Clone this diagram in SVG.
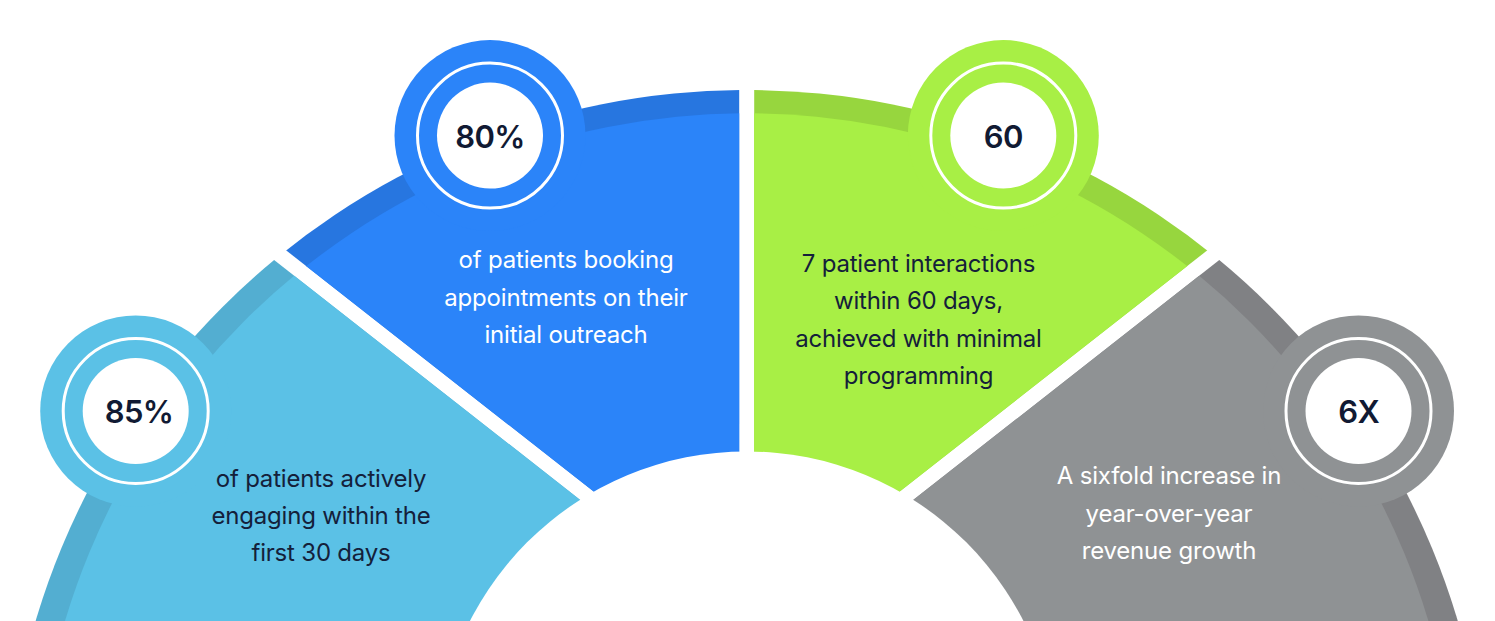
<svg xmlns="http://www.w3.org/2000/svg" width="1495" height="621" viewBox="0 0 1495 621">
  <defs>
    <clipPath id="c-lb"><polygon points="742.07,626.9 -438.3,-298.6 -600,-298.6 -600,900 742.07,900"/></clipPath>
    <clipPath id="c-bl"><polygon points="739.2,605.6 -429,-310.4 739.2,-310.4"/></clipPath>
    <clipPath id="c-gr"><polygon points="754.2,605.6 1922.4,-310.4 754.2,-310.4"/></clipPath>
    <clipPath id="c-gy"><polygon points="751.33,626.9 1931.7,-298.6 2093.4,-298.6 2093.4,900 751.33,900"/></clipPath>
  </defs>
  <style>
    .ring { fill: none; stroke: #ffffff; stroke-width: 3; }
    .core { fill: #ffffff; }
    .num { font-family: Inter, "Liberation Sans", sans-serif; font-weight: 600; font-size: 31px; letter-spacing: -0.6px; fill: #111a33; text-anchor: middle; }
    .desc { font-family: Inter, "Liberation Sans", sans-serif; font-weight: 400; font-size: 24px; letter-spacing: -0.2px; text-anchor: middle; }
    .dark { fill: #14203a; }
    .light { fill: #ffffff; }
  </style>
  <rect width="1495" height="621" fill="#ffffff"/>

  <g id="segment-85">
    <g clip-path="url(#c-lb)">
      <circle cx="746.7" cy="831.6" r="741.6" fill="#53AED1"/>
      <circle cx="746.7" cy="824.8" r="711.5" fill="#5BC1E6"/>
    </g>
  </g>
  <g id="segment-80">
    <g clip-path="url(#c-bl)">
      <circle cx="746.7" cy="831.6" r="741.6" fill="#2776E0"/>
      <circle cx="746.7" cy="824.8" r="711.5" fill="#2B84F9"/>
    </g>
  </g>
  <g id="segment-60">
    <g clip-path="url(#c-gr)">
      <circle cx="746.7" cy="831.6" r="741.6" fill="#97D63E"/>
      <circle cx="746.7" cy="824.8" r="711.5" fill="#A8EF45"/>
    </g>
  </g>
  <g id="segment-6x">
    <g clip-path="url(#c-gy)">
      <circle cx="746.7" cy="831.6" r="741.6" fill="#808184"/>
      <circle cx="746.7" cy="824.8" r="711.5" fill="#8F9294"/>
    </g>
  </g>
  <circle id="hole" cx="746.7" cy="762" r="310.6" fill="#ffffff"/>

  <g id="node-85">
    <circle cx="135.7" cy="411" r="95.5" fill="#5BC1E6"/>
    <circle class="ring" cx="135.7" cy="411" r="72.5"/>
    <circle class="core" cx="135.7" cy="411" r="53"/>
    <text class="num" x="139" y="423">85%</text>
    <text class="desc dark" x="321" y="487">of patients actively</text>
    <text class="desc dark" x="321" y="524">engaging within the</text>
    <text class="desc dark" x="321" y="561">first 30 days</text>
  </g>
  <g id="node-80">
    <circle cx="490" cy="135.6" r="95.5" fill="#2B84F9"/>
    <circle class="ring" cx="490" cy="135.6" r="72.5"/>
    <circle class="core" cx="490" cy="135.6" r="53"/>
    <text class="num" x="490" y="148">80%</text>
    <text class="desc light" x="566" y="268">of patients booking</text>
    <text class="desc light" x="566" y="306">appointments on their</text>
    <text class="desc light" x="566" y="343">initial outreach</text>
  </g>
  <g id="node-60">
    <circle cx="1003.3" cy="135.6" r="95.5" fill="#A8EF45"/>
    <circle class="ring" cx="1003.3" cy="135.6" r="72.5"/>
    <circle class="core" cx="1003.3" cy="135.6" r="53"/>
    <text class="num" x="1003.3" y="148">60</text>
    <text class="desc dark" x="918.5" y="272">7 patient interactions</text>
    <text class="desc dark" x="918.5" y="309">within 60 days,</text>
    <text class="desc dark" x="918.5" y="346.5">achieved with minimal</text>
    <text class="desc dark" x="918.5" y="383.5">programming</text>
  </g>
  <g id="node-6x">
    <circle cx="1358.5" cy="411" r="95.5" fill="#8F9294"/>
    <circle class="ring" cx="1358.5" cy="411" r="72.5"/>
    <circle class="core" cx="1358.5" cy="411" r="53"/>
    <text class="num" x="1358.8" y="423">6X</text>
    <text class="desc light" x="1169" y="484">A sixfold increase in</text>
    <text class="desc light" x="1169" y="521.5">year-over-year</text>
    <text class="desc light" x="1169" y="559">revenue growth</text>
  </g>
  <g id="connectors"/>
</svg>
